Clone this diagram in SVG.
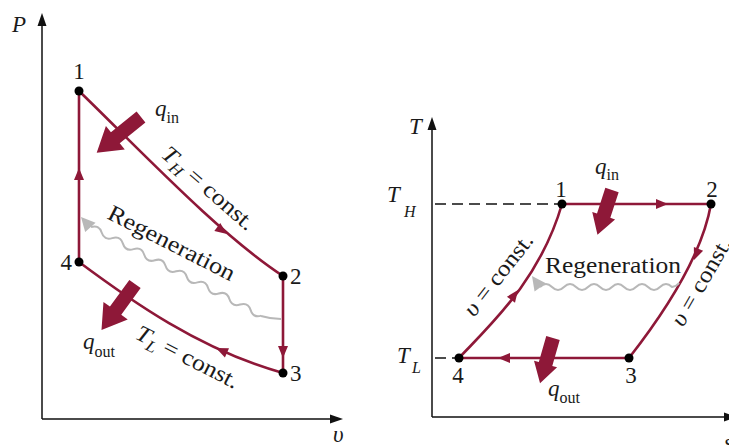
<svg xmlns="http://www.w3.org/2000/svg" width="729" height="445" viewBox="0 0 729 445">
<style>
.ax{stroke:#111;stroke-width:1.5;fill:none}
.cy{stroke:#8e1838;stroke-width:2.6;fill:none}
.dash{stroke:#111;stroke-width:1.5;stroke-dasharray:11 6;fill:none}
.rg{stroke:#b8b8b8;stroke-width:2;fill:none}
.t{font-family:"Liberation Serif","Times New Roman",serif;font-size:23px;fill:#1a1a1a}
.i{font-style:italic}
.s{font-size:16px}
.dot{fill:#000}
</style>
<defs>
<path id="ah" d="M0,0 L-13,-4.5 L-13,4.5 Z" fill="#111"/>
<path id="mh" d="M0,0 L-12,-5 L-12,5 Z" fill="#8e1838"/>
<path id="gh" d="M0,0 L-14,-7 L-14,7 Z" fill="#b8b8b8"/>
<path id="qa" d="M0,-7 L33,-7 L33,-15 L57,0 L33,15 L33,7 L0,7 Z" fill="#8e1838"/>
<path id="qb" d="M0,-7 L27,-7 L27,-12 L47,0 L27,12 L27,7 L0,7 Z" fill="#8e1838"/>
</defs>

<!-- axes -->
<g id="axes">
<path class="ax" d="M42,419 L42,20 M42,419 L336,419"/>
<use href="#ah" transform="translate(42,13) rotate(-90)"/>
<use href="#ah" transform="translate(343,419)"/>
<path class="ax" d="M432,417 L432,124 M432,417 L730,417"/>
<use href="#ah" transform="translate(432,117) rotate(-90)"/>
<use href="#ah" transform="translate(737,417)"/>
<path class="dash" d="M435,204 L559,204 M435,358 L456,358"/>
<text class="t i" x="12" y="32">P</text>
<text class="t i" x="333" y="442">υ</text>
<text class="t i" x="724" y="450">s</text>
<text class="t i" x="409" y="134">T</text>
<text class="t i" x="387" y="202">T</text>
<text class="t i s" x="404" y="217">H</text>
<text class="t i" x="397" y="363">T</text>
<text class="t i s" x="412" y="373">L</text>
</g>

<!-- connectors -->
<g id="connectors">
<path class="cy" d="M79,262 L79,91"/>
<path class="cy" d="M79,91 C140,150 220,235 283,276"/>
<path class="cy" d="M283,276 L283,373"/>
<path class="cy" d="M283,373 C200,350 130,300 79,262"/>
<use href="#mh" transform="translate(79,168) rotate(-90)"/>
<use href="#mh" transform="translate(227,234) rotate(36)"/>
<use href="#mh" transform="translate(283,358) rotate(90)"/>
<use href="#mh" transform="translate(216,348) rotate(204)"/>

<path class="cy" d="M562,204 L711,204"/>
<path class="cy" d="M711,204 C703,250 672,303 629,358"/>
<path class="cy" d="M629,358 L459,358"/>
<path class="cy" d="M459,358 C490,325 540,280 562,204"/>
<use href="#mh" transform="translate(668,204)"/>
<use href="#mh" transform="translate(694,260) rotate(112)"/>
<use href="#mh" transform="translate(498,358) rotate(180)"/>
<use href="#mh" transform="translate(518,290) rotate(-54)"/>

<!-- regeneration waves -->
<g transform="translate(91,227) rotate(27.5)">
<path class="rg" d="M0,0 q6,-6 12,0 t12,0 t12,0 t12,0 t12,0 t12,0 t12,0 t12,0 t12,0 t12,0 t12,0 t12,0 t12,0 t12,0 t12,0 t12,0"/>
</g>
<path class="rg" d="M261,316 Q271,319 281,319"/>
<use href="#gh" transform="translate(81,217) rotate(228)"/>
<path class="rg" d="M540,287 q6,-6 12,0 t12,0 t12,0 t12,0 t12,0 t12,0 t12,0 t12,0 t12,0 t12,0 t12,0 Q677,286 679,283"/>
<use href="#gh" transform="translate(532,276) rotate(234)"/>

<!-- heat arrows -->
<use href="#qa" transform="translate(141,117) rotate(141)"/>
<use href="#qa" transform="translate(135,284) rotate(126)"/>
<use href="#qb" transform="translate(612,190) rotate(108)"/>
<use href="#qb" transform="translate(553,338) rotate(106)"/>
</g>

<!-- nodes -->
<g id="pv-1"><circle class="dot" cx="79" cy="91" r="4.5"/><text class="t" x="79" y="79" text-anchor="middle">1</text></g>
<g id="pv-2"><circle class="dot" cx="283" cy="276" r="4.5"/><text class="t" x="290" y="284">2</text></g>
<g id="pv-3"><circle class="dot" cx="283" cy="373" r="4.5"/><text class="t" x="290" y="381">3</text></g>
<g id="pv-4"><circle class="dot" cx="79" cy="262" r="4.5"/><text class="t" x="72" y="270" text-anchor="end">4</text></g>

<g id="ts-1"><circle class="dot" cx="562" cy="204" r="4.5"/><text class="t" x="561" y="197" text-anchor="middle">1</text></g>
<g id="ts-2"><circle class="dot" cx="711" cy="204" r="4.5"/><text class="t" x="712" y="197" text-anchor="middle">2</text></g>
<g id="ts-3"><circle class="dot" cx="629" cy="358" r="4.5"/><text class="t" x="631" y="383" text-anchor="middle">3</text></g>
<g id="ts-4"><circle class="dot" cx="459" cy="358" r="4.5"/><text class="t" x="458" y="383" text-anchor="middle">4</text></g>

<!-- labels -->
<g id="labels">
<text class="t" x="155" y="116"><tspan class="i">q</tspan><tspan class="s" dy="7">in</tspan></text>
<text class="t" x="83" y="349"><tspan class="i">q</tspan><tspan class="s" dy="8">out</tspan></text>
<text class="t" transform="translate(160,156) rotate(41) scale(1.12,1)"><tspan class="i">T</tspan><tspan class="i s" dy="5">H</tspan><tspan dy="-5"> = const.</tspan></text>
<text class="t" transform="translate(106,218) rotate(27) scale(1.14,1)">Regeneration</text>
<text class="t" transform="translate(134,338) rotate(27) scale(1.12,1)"><tspan class="i">T</tspan><tspan class="i s" dy="5">L</tspan><tspan dy="-5"> = const.</tspan></text>

<text class="t" x="595" y="174"><tspan class="i">q</tspan><tspan class="s" dy="6">in</tspan></text>
<text class="t" x="548" y="396"><tspan class="i">q</tspan><tspan class="s" dy="7">out</tspan></text>
<text class="t" x="545" y="273" textLength="136" lengthAdjust="spacingAndGlyphs">Regeneration</text>
<text class="t" transform="translate(474,318) rotate(-52) scale(1.1,1)"><tspan class="i">υ</tspan> = const.</text>
<text class="t" transform="translate(683,328) rotate(-60) scale(1.1,1)"><tspan class="i">υ</tspan> = const.</text>
</g>
</svg>
